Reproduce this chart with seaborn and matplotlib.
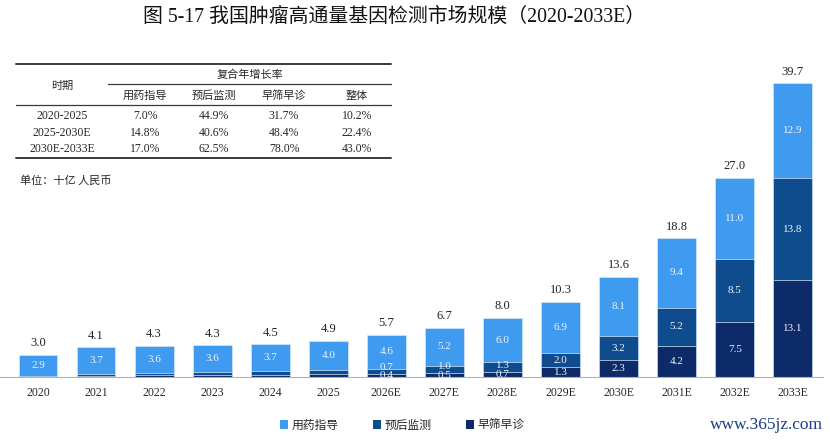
import matplotlib
matplotlib.use("Agg")
import matplotlib.pyplot as plt
import seaborn as sns
import pandas as pd
from matplotlib.lines import Line2D
from matplotlib.patches import Patch

sns.set_style("white")
plt.rcParams['font.family'] = ['Noto Sans CJK SC', 'DejaVu Sans']
SERIF = ['Liberation Serif', 'Noto Sans CJK SC']
SANS = ['Noto Sans CJK SC', 'DejaVu Sans']

# data (十亿 人民币)
years = ['2020', '2021', '2022', '2023', '2024', '2025', '2026E', '2027E',
         '2028E', '2029E', '2030E', '2031E', '2032E', '2033E']
drug = [2.9, 3.7, 3.6, 3.6, 3.7, 4.0, 4.6, 5.2, 6.0, 6.9, 8.1, 9.4, 11.0, 12.9]
prognosis = [0.05, 0.2, 0.35, 0.4, 0.45, 0.55, 0.7, 1.0, 1.3, 2.0, 3.2, 5.2, 8.5, 13.8]
screening = [0.05, 0.15, 0.25, 0.3, 0.3, 0.35, 0.4, 0.5, 0.7, 1.3, 2.3, 4.2, 7.5, 13.1]
totals = [3.0, 4.1, 4.3, 4.3, 4.5, 4.9, 5.7, 6.7, 8.0, 10.3, 13.6, 18.8, 27.0, 39.7]
labelled_from = 6  # 预后/早筛 labels only from 2026E on

series_names = ['用药指导', '预后监测', '早筛早诊']
colors = ['#3f9bef', '#0f4c8d', '#0d2b68']

# CAGR table
periods = ['2020-2025', '2025-2030E', '2030E-2033E']
cagr_cols = ['用药指导', '预后监测', '早筛早诊', '整体']
cagr = [['7.0%', '44.9%', '31.7%', '10.2%'],
        ['14.8%', '40.6%', '48.4%', '22.4%'],
        ['17.0%', '62.5%', '78.0%', '43.0%']]

df = pd.DataFrame({'year': years, 'drug': drug, 'prog': prognosis, 'screen': screening})
df['top'] = df['drug'] + df['prog'] + df['screen']
df['mid'] = df['prog'] + df['screen']

W, H = 830, 444
fig = plt.figure(figsize=(W / 100, H / 100), dpi=100)


def fx(x):
    return x / W


def fy(y):
    return 1 - y / H


base_px, top_px = 377, 60
ax = fig.add_axes([0, fy(base_px), 823 / W, (base_px - top_px) / H])

# layered stacks: full height first, then the lower parts on top
for col, c in zip(['top', 'mid', 'screen'], colors):
    sns.barplot(data=df, x='year', y=col, color=c, width=0.67, ax=ax,
                edgecolor='#d6e6f7', linewidth=0.5, saturation=1)

ax.set_ylim(0, (base_px - top_px) / 7.38)
ax.set_xlim(-0.654, 13.52)
ax.set_xlabel('')
ax.set_ylabel('')
ax.set_yticks([])
for s in ['top', 'right', 'left']:
    ax.spines[s].set_visible(False)
ax.spines['bottom'].set_color('#b0b0b0')
ax.spines['bottom'].set_linewidth(0.8)
ax.tick_params(axis='x', length=0, pad=7, labelsize=8.5)
for t in ax.get_xticklabels():
    t.set_family(SERIF)

lab_kw = dict(ha='center', va='center', fontsize=8, family=SERIF, color='#eef4fb')
for i in range(len(years)):
    ax.annotate(f"{totals[i]:.1f}", (i, df['top'][i]), xytext=(0, 4),
                textcoords='offset points', ha='center', va='bottom',
                fontsize=9, family=SERIF, color='#222222')
    ax.text(i, df['mid'][i] + drug[i] / 2, f"{drug[i]:.1f}", **lab_kw)
    if i >= labelled_from:
        y_mid = max(screening[i] + prognosis[i] / 2, screening[i] + 0.9)
        ax.text(i, y_mid, f"{prognosis[i]:.1f}", **lab_kw)
        ax.text(i, screening[i] / 2, f"{screening[i]:.1f}", **lab_kw)

# title
fig.text(fx(394), fy(17), '图 5-17 我国肿瘤高通量基因检测市场规模（2020-2033E）',
         ha='center', va='center', fontsize=14.3, family=SERIF, color='#111111')

# table
lc = '#3a3a3a'
fig.add_artist(Line2D([fx(16), fx(391)], [fy(64), fy(64)], color=lc, lw=1.4))
fig.add_artist(Line2D([fx(108), fx(391)], [fy(84), fy(84)], color=lc, lw=0.9))
fig.add_artist(Line2D([fx(16), fx(391)], [fy(105), fy(105)], color=lc, lw=0.9))
fig.add_artist(Line2D([fx(16), fx(391)], [fy(158), fy(158)], color=lc, lw=1.4))
fig.text(fx(62), fy(86), '时期', ha='center', va='center', fontsize=8, family=SANS)
fig.text(fx(250), fy(75), '复合年增长率', ha='center', va='center', fontsize=8, family=SANS)
col_x = [145, 214, 284, 357]
for cx, name in zip(col_x, cagr_cols):
    fig.text(fx(cx), fy(96), name, ha='center', va='center', fontsize=8, family=SANS)
row_y = [116, 133, 149]
for ry, p, vals in zip(row_y, periods, cagr):
    fig.text(fx(62), fy(ry), p, ha='center', va='center', fontsize=8.5, family=SERIF)
    for cx, v in zip(col_x, vals):
        fig.text(fx(cx), fy(ry), v, ha='center', va='center', fontsize=8.5, family=SERIF)
fig.text(fx(20), fy(181), '单位：十亿 人民币', ha='left', va='center', fontsize=8, family=SANS)

# legend
handles = [Patch(facecolor=c, edgecolor='none', label=n) for c, n in zip(colors, series_names)]
fig.legend(handles=handles, loc='center', bbox_to_anchor=(fx(402), fy(425)), ncol=3,
           frameon=False, handlelength=0.7, handleheight=0.7, handletextpad=0.3,
           columnspacing=2.9, prop={'family': SANS, 'size': 8.5})

fig.text(fx(823), fy(425), 'www.365jz.com', ha='right', va='center', fontsize=12.5,
         family=SERIF, color='#1a3a8a')

fig.savefig('out.png', dpi=100)
